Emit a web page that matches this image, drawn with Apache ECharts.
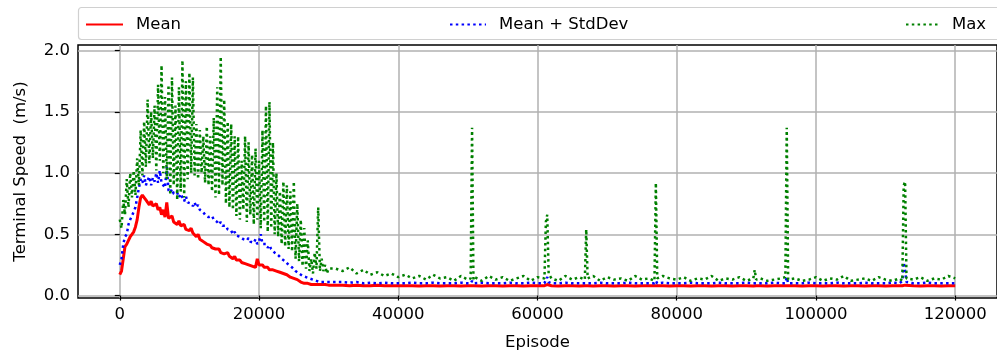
<!DOCTYPE html>
<html>
<head>
<meta charset="utf-8">
<script src="https://cdn.jsdelivr.net/npm/echarts@6/dist/echarts.min.js"></script>
<style>
  html, body { margin: 0; padding: 0; background: #fff; }
  #chart { width: 997px; height: 356px; }
</style>
</head>
<body>
<div id="chart"></div>
<script>
// episodes (shared x values for every series)
var episodes = [
  0,250,500,750, 1000,1250,1500,1750, 2000,2250,2500,2750, 3000,3250,3500,3750,
  4000,4250,4500,4750, 5000,5250,5500,5750, 6000,6250,6500,6750, 7000,7250,7500,7750,
  8000,8250,8500,8750, 9000,9250,9500,9750, 10000,10250,10500,10750, 11000,11250,11500,11750,
  12000,12250,12500,12750, 13000,13250,13500,13750, 14000,14250,14500,14750, 15000,15250,15500,15750,
  16000,16250,16500,16750, 17000,17250,17500,17750, 18000,18250,18500,18750, 19000,19250,19500,19750,
  20000,20250,20500,20750, 21000,21250,21500,21750, 22000,22250,22500,22750, 23000,23250,23500,23750,
  24000,24250,24500,24750, 25000,25250,25500,25750, 26000,26250,26500,26750, 27000,27250,27500,27750,
  28000,28250,28500,28750, 29000,29250,29500,29750, 30000,
  31000,32000,33000,34000,35000,36000,37000,38000,39000,40000,
  41000,42000,43000,44000,45000,46000,47000,48000,49000,50000,
  50400,50600,50800,
  51000,52000,53000,54000,55000,56000,57000,58000,59000,60000,61000,
  61200,61400,61600,
  62000,63000,64000,65000,66000,
  66800,67000,67200,
  68000,69000,70000,71000,72000,73000,74000,75000,76000,
  76800,77000,77200,
  78000,79000,80000,81000,82000,83000,84000,85000,86000,87000,88000,89000,90000,91000,
  91200,91400,
  92000,93000,94000,95000,
  95600,95800,96000,
  97000,98000,99000,100000,101000,102000,103000,104000,105000,106000,107000,108000,109000,110000,111000,112000,
  112400,112600,112800,113000,
  114000,115000,116000,117000,118000,119000,120000
];

var meanSpeed = [
  0.17,0.2,0.3,0.4, 0.42,0.45,0.48,0.5, 0.52,0.56,0.62,0.72, 0.8,0.82,0.8,0.78,
  0.76,0.74,0.77,0.73, 0.72,0.75,0.7,0.72, 0.66,0.7,0.64,0.76, 0.63,0.62,0.65,0.6,
  0.6,0.58,0.61,0.57, 0.56,0.58,0.54,0.55, 0.53,0.55,0.51,0.5, 0.48,0.5,0.46,0.47,
  0.44,0.45,0.42,0.43, 0.41,0.39,0.4,0.38, 0.37,0.38,0.35,0.36, 0.34,0.33,0.35,0.32,
  0.31,0.3,0.32,0.29, 0.28,0.29,0.27,0.28, 0.26,0.27,0.25,0.26, 0.24,0.25,0.23,0.3,
  0.25,0.24,0.25,0.23, 0.22,0.23,0.21,0.22, 0.21,0.2,0.2,0.19, 0.19,0.18,0.18,0.17,
  0.17,0.16,0.15,0.15, 0.14,0.13,0.13,0.12, 0.11,0.11,0.1,0.1, 0.1,0.1,0.09,0.09,
  0.09,0.09,0.09,0.09, 0.09,0.085,0.09,0.085, 0.085,
  0.085,0.085,0.08,0.085,0.08,0.08,0.085,0.08,0.08,0.08,
  0.08,0.08,0.078,0.08,0.08,0.078,0.08,0.08,0.078,0.08,
  0.08,0.085,0.08,
  0.08,0.078,0.08,0.08,0.078,0.08,0.08,0.078,0.08,0.08,0.08,
  0.085,0.09,0.08,
  0.08,0.078,0.08,0.08,0.078,
  0.08,0.082,0.08,
  0.078,0.08,0.08,0.078,0.08,0.08,0.078,0.08,0.08,
  0.08,0.085,0.08,
  0.08,0.078,0.08,0.08,0.078,0.08,0.08,0.078,0.08,0.08,0.078,0.08,0.08,0.078,
  0.082,0.08,
  0.08,0.078,0.08,0.08,
  0.08,0.085,0.08,
  0.08,0.078,0.08,0.08,0.078,0.08,0.08,0.078,0.08,0.08,0.078,0.08,0.08,0.078,0.08,0.08,
  0.08,0.09,0.085,0.08,
  0.08,0.078,0.08,0.08,0.078,0.08,0.08
];

var meanPlusStd = [
  0.25,0.3,0.42,0.48, 0.5,0.58,0.62,0.65, 0.66,0.72,0.8,0.88, 0.95,0.92,0.98,0.9,
  0.94,0.97,0.9,0.96, 0.93,1.0,0.92,1.02, 0.92,0.9,0.88,1.05, 0.86,0.84,0.87,0.83,
  0.82,0.84,0.8,0.83, 0.8,0.77,0.81,0.76, 0.77,0.75,0.73,0.76, 0.72,0.74,0.7,0.71,
  0.68,0.66,0.67,0.64, 0.63,0.65,0.62,0.61, 0.6,0.58,0.6,0.57, 0.56,0.57,0.54,0.55,
  0.53,0.5,0.52,0.49, 0.5,0.48,0.49,0.46, 0.46,0.45,0.47,0.44, 0.45,0.43,0.46,0.42,
  0.44,0.5,0.42,0.41, 0.42,0.39,0.41,0.38, 0.37,0.35,0.36,0.33, 0.32,0.3,0.31,0.28,
  0.27,0.25,0.26,0.23, 0.22,0.2,0.2,0.18, 0.17,0.16,0.15,0.15, 0.14,0.14,0.13,0.13,
  0.12,0.12,0.12,0.11, 0.11,0.11,0.12,0.11, 0.11,
  0.11,0.11,0.105,0.11,0.1,0.105,0.1,0.105,0.1,0.1,
  0.1,0.105,0.1,0.1,0.105,0.1,0.1,0.1,0.105,0.1,
  0.1,0.12,0.1,
  0.1,0.105,0.1,0.1,0.1,0.105,0.1,0.1,0.105,0.1,0.1,
  0.13,0.15,0.11,
  0.1,0.1,0.105,0.1,0.1,
  0.1,0.11,0.1,
  0.1,0.105,0.1,0.1,0.1,0.105,0.1,0.1,0.1,
  0.1,0.12,0.1,
  0.105,0.1,0.1,0.1,0.105,0.1,0.1,0.1,0.105,0.1,0.1,0.1,0.105,0.1,
  0.11,0.1,
  0.1,0.1,0.105,0.1,
  0.1,0.15,0.1,
  0.1,0.1,0.105,0.1,0.1,0.1,0.105,0.1,0.1,0.1,0.105,0.1,0.1,0.1,0.105,0.1,
  0.12,0.27,0.2,0.11,
  0.1,0.1,0.105,0.1,0.1,0.1,0.1
];

var maxSpeed = [
  0.62,0.55,0.78,0.66, 0.95,0.72,1.0,0.8, 1.02,0.82,1.12,0.9, 1.35,0.98,1.42,1.05,
  1.6,1.08,1.5,1.12, 1.55,1.02,1.72,1.1, 1.88,1.0,1.62,0.95, 1.72,0.82,1.78,0.9,
  1.55,0.78,1.7,0.85, 1.92,0.8,1.75,0.95, 1.82,1.0,1.78,0.98, 1.4,0.95,1.35,1.0,
  1.3,0.92,1.38,0.9, 1.3,0.85,1.45,0.8, 1.7,0.82,1.95,0.9, 1.6,0.75,1.42,0.72,
  1.4,0.7,1.3,0.65, 1.3,0.62,1.1,0.7, 1.3,0.6,1.25,0.66, 1.15,0.58,1.2,0.62,
  1.1,0.55,1.35,0.6, 1.55,0.52,1.58,0.55, 1.25,0.5,1.0,0.48, 0.85,0.42,0.93,0.4,
  0.9,0.38,0.85,0.36, 0.93,0.3,0.75,0.28, 0.62,0.24,0.55,0.22, 0.45,0.2,0.3,0.18,
  0.35,0.22,0.72,0.2, 0.3,0.2,0.25,0.18, 0.22,
  0.22,0.2,0.23,0.18,0.21,0.17,0.19,0.16,0.18,0.15,
  0.17,0.14,0.16,0.13,0.17,0.14,0.15,0.12,0.16,0.13,
  0.14,1.37,0.13,
  0.15,0.12,0.16,0.13,0.15,0.12,0.14,0.16,0.12,0.15,0.14,
  0.6,0.66,0.18,
  0.14,0.12,0.16,0.13,0.15,
  0.13,0.54,0.14,
  0.16,0.12,0.15,0.13,0.14,0.12,0.16,0.13,0.14,
  0.12,0.92,0.14,
  0.16,0.14,0.13,0.15,0.12,0.14,0.13,0.16,0.12,0.14,0.13,0.15,0.12,0.14,
  0.21,0.13,
  0.14,0.12,0.13,0.14,
  0.15,1.37,0.13,
  0.14,0.12,0.13,0.15,0.12,0.14,0.13,0.16,0.12,0.13,0.14,0.12,0.15,0.13,0.12,0.14,
  0.12,0.9,0.93,0.14,
  0.13,0.15,0.12,0.14,0.13,0.16,0.14
];

var xTicks = [0, 20000, 40000, 60000, 80000, 100000, 120000];
var yTicks = [0, 0.5, 1.0, 1.5, 2.0];

var FONT = "'DejaVu Sans', sans-serif";

function pairs(values) {
  var out = [];
  for (var i = 0; i < episodes.length; i++) {
    out.push([episodes[i], values[i]]);
  }
  return out;
}

// one legend per entry, matplotlib "expand" style spacing
function legendAt(name, left, width) {
  return {
    data: [name],
    left: left,
    top: 16,
    padding: 0,
    itemWidth: width,
    itemHeight: 14,
    selectedMode: false,
    itemStyle: { color: 'rgba(0,0,0,0)', borderWidth: 0, opacity: 0 },
    textStyle: { fontSize: 16.5, color: '#000', fontFamily: FONT, padding: [0, 0, 0, 8] }
  };
}

var chart = echarts.init(document.getElementById('chart'));
chart.setOption({
  animation: false,
  backgroundColor: '#fff',
  graphic: [{
    type: 'rect',
    z: -1,
    shape: { x: 78.5, y: 7.5, width: 935, height: 32, r: 3 },
    style: { fill: '#fff', stroke: '#d0d0d0', lineWidth: 1.2 }
  }],
  legend: [
    legendAt('Mean', 85, 37),
    legendAt('Mean + StdDev', 449, 36),
    legendAt('Max', 905, 33)
  ],
  grid: {
    left: 78, top: 45, width: 922, height: 254,
    show: true, borderColor: '#000', borderWidth: 1.5, backgroundColor: 'transparent'
  },
  xAxis: {
    type: 'value', min: -6000, max: 126000,
    name: 'Episode', nameLocation: 'middle', nameGap: 36,
    nameTextStyle: { fontSize: 16.5, color: '#000', fontFamily: FONT },
    axisLine: { show: false },
    axisTick: { show: true, customValues: xTicks, length: 5, lineStyle: { color: '#000', width: 1.2 } },
    axisLabel: {
      customValues: xTicks, margin: 8, fontSize: 16.5, color: '#000', fontFamily: FONT,
      formatter: function (v) { return String(v); }
    },
    splitLine: { show: true, lineStyle: { color: '#b0b0b0', width: 1.5 } }
  },
  yAxis: {
    type: 'value', min: -0.02, max: 2.045,
    name: 'Terminal Speed  (m/s)', nameLocation: 'middle', nameGap: 49,
    nameTextStyle: { fontSize: 16.5, color: '#000', fontFamily: FONT },
    axisLine: { show: false },
    axisTick: { show: true, customValues: yTicks, length: 5, lineStyle: { color: '#000', width: 1.2 } },
    axisLabel: {
      customValues: yTicks, margin: 8, fontSize: 16.5, color: '#000', fontFamily: FONT,
      formatter: function (v) { return v.toFixed(1); }
    },
    splitLine: { show: true, lineStyle: { color: '#b0b0b0', width: 1.5 } }
  },
  series: [
    {
      name: 'Mean', type: 'line', symbol: 'none', data: pairs(meanSpeed),
      lineStyle: { color: '#ff0000', width: 3 }, itemStyle: { color: '#ff0000' }
    },
    {
      name: 'Mean + StdDev', type: 'line', symbol: 'none', data: pairs(meanPlusStd),
      lineStyle: { color: '#0000ff', width: 2.5, type: [2.5, 3.3] }, itemStyle: { color: '#0000ff' }
    },
    {
      name: 'Max', type: 'line', symbol: 'none', data: pairs(maxSpeed),
      lineStyle: { color: '#008000', width: 2.5, type: [2.5, 3.3] }, itemStyle: { color: '#008000' }
    }
  ]
});
</script>
</body>
</html>
